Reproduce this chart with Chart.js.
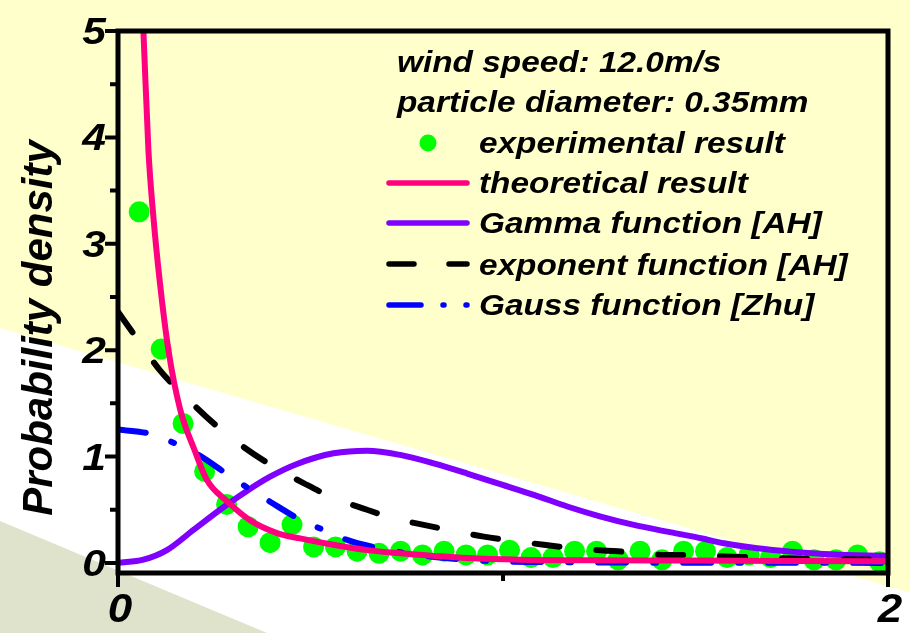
<!DOCTYPE html>
<html>
<head>
<meta charset="utf-8">
<script src="https://cdn.jsdelivr.net/npm/chart.js@4/dist/chart.umd.min.js"></script>
<style>
html,body{margin:0;padding:0;background:#FFFFCC;}
#c{display:block;width:910px;height:633px;}
</style>
</head>
<body>
<canvas id="c" width="910" height="633"></canvas>
<script>
// ---- data ----
const headerLines = ["wind speed: 12.0m/s", "particle diameter: 0.35mm"];
const seriesNames = ["experimental result", "theoretical result", "Gamma function [AH]", "exponent function [AH]", "Gauss function [Zhu]"];
const yAxisTitle = "Probability density";

const expX = [0.055,0.112,0.169,0.225,0.282,0.338,0.395,0.452,0.508,0.565,0.621,0.678,0.734,0.791,0.847,0.904,0.960,1.017,1.073,1.130,1.186,1.243,1.299,1.356,1.413,1.469,1.526,1.582,1.639,1.695,1.752,1.808,1.865,1.921,1.978];
const expY = [3.30,2.01,1.31,0.86,0.55,0.34,0.19,0.36,0.15,0.15,0.11,0.09,0.11,0.075,0.11,0.075,0.075,0.12,0.05,0.05,0.11,0.11,0.03,0.11,0.03,0.11,0.11,0.05,0.075,0.05,0.11,0.03,0.03,0.075,0.01];

const theoX = [0.062,0.066,0.079,0.092,0.109,0.131,0.161,0.200,0.231,0.283,0.343,0.413,0.473,0.559,0.647,0.733,0.819,0.907,1.046,1.25,1.51,1.75,2.0];
const theoY = [5.3,5.0,3.88,3.25,2.63,2.0,1.45,1.05,0.78,0.58,0.40,0.28,0.23,0.17,0.12,0.09,0.066,0.045,0.03,0.025,0.022,0.018,0.015];

const gamX = [0,0.066,0.127,0.196,0.265,0.326,0.395,0.465,0.56,0.647,0.733,0.82,0.907,0.993,1.08,1.167,1.254,1.34,1.427,1.514,1.574,1.661,1.748,1.834,1.921,2.0];
const gamY = [0,0.03,0.12,0.31,0.50,0.655,0.81,0.93,1.03,1.055,1.015,0.935,0.84,0.74,0.64,0.53,0.435,0.357,0.294,0.232,0.185,0.138,0.106,0.084,0.072,0.066];

const expoX = [0,0.049,0.109,0.17,0.252,0.326,0.404,0.482,0.56,0.638,0.716,0.794,0.872,0.95,1.033,1.106,1.184,1.262,1.34,1.418,1.496,1.574,1.652,1.73,1.808,1.886,2.0];
const expoY = [2.36,2.11,1.81,1.58,1.30,1.09,0.905,0.75,0.61,0.51,0.42,0.357,0.30,0.247,0.205,0.17,0.138,0.116,0.10,0.075,0.075,0.06,0.053,0.044,0.038,0.035,0.03];

const gauX = [0,0.088,0.144,0.209,0.283,0.335,0.395,0.478,0.534,0.595,0.677,0.76,0.85,0.95,1.1,1.3,1.6,2.0];
const gauY = [1.255,1.21,1.13,1.015,0.835,0.71,0.575,0.397,0.31,0.216,0.138,0.085,0.045,0.02,0.008,0.003,0.001,0];

const xMajorTicks = [0, 2];
const xMinorTicks = [1];
const yMajorTicks = [0, 1, 2, 3, 4, 5];
const yMinorTicks = [0.5, 1.5, 2.5, 3.5, 4.5];

// ---- helpers ----
const pts = (xs, ys) => xs.map((x, i) => ({x: x, y: ys[i]}));
const C = {green:'#00FF00', pink:'#FF0080', purple:'#8000FF', black:'#000000', blue:'#0000FF'};
const FONT = '"Liberation Sans", Arial, sans-serif';

function stretchText(ctx, txt, x, y, sx, align) {
  ctx.save();
  ctx.translate(x, y);
  ctx.scale(sx, 1);
  ctx.textAlign = align || 'left';
  ctx.fillText(txt, 0, 0);
  ctx.restore();
}

const bgPlugin = {
  id: 'bg',
  beforeDraw(chart) {
    const ctx = chart.ctx, W = chart.width, H = chart.height;
    ctx.save();
    ctx.fillStyle = '#FFFFCC';
    ctx.fillRect(0, 0, W, H);
    ctx.fillStyle = '#FFFFFF';
    ctx.beginPath();
    ctx.moveTo(0, 328); ctx.lineTo(W, 328 + 0.291 * W); ctx.lineTo(W, H); ctx.lineTo(0, H); ctx.closePath();
    ctx.fill();
    ctx.fillStyle = '#E0E3CB';
    ctx.beginPath();
    ctx.moveTo(0, 521); ctx.lineTo(267, H); ctx.lineTo(0, H); ctx.closePath();
    ctx.fill();
    ctx.restore();
  }
};

const axesPlugin = {
  id: 'axesFrame',
  afterDatasetsDraw(chart) {
    const ctx = chart.ctx;
    const xs = chart.scales.x, ys = chart.scales.y;
    const L = xs.getPixelForValue(xs.min), R = xs.getPixelForValue(xs.max);
    const T = ys.getPixelForValue(ys.max), B = ys.getPixelForValue(ys.min);
    ctx.save();
    ctx.strokeStyle = '#000';
    ctx.lineCap = 'butt';
    // frame
    ctx.lineWidth = 5;
    ctx.beginPath();
    ctx.moveTo(L, B); ctx.lineTo(R, B);
    ctx.moveTo(L, B + 2.5); ctx.lineTo(L, T - 2.5);
    ctx.moveTo(L - 2.5, T); ctx.lineTo(R + 2.5, T);
    ctx.moveTo(R, T); ctx.lineTo(R, B + 2.5);
    ctx.stroke();
    // y ticks
    ctx.lineWidth = 4;
    ctx.beginPath();
    yMajorTicks.forEach(v => { const p = ys.getPixelForValue(v); ctx.moveTo(L, p); ctx.lineTo(L - 13, p); });
    yMinorTicks.forEach(v => { const p = ys.getPixelForValue(v); ctx.moveTo(L, p); ctx.lineTo(L - 8, p); });
    // x ticks
    xMajorTicks.forEach(v => { const p = xs.getPixelForValue(v); ctx.moveTo(p, B); ctx.lineTo(p, B + 14); });
    xMinorTicks.forEach(v => { const p = xs.getPixelForValue(v); ctx.moveTo(p, B); ctx.lineTo(p, B + 8); });
    ctx.stroke();
    // tick labels
    ctx.fillStyle = '#000';
    ctx.textBaseline = 'alphabetic';
    ctx.font = 'italic bold 37px ' + FONT;
    yMajorTicks.forEach(v => { const p = ys.getPixelForValue(v); stretchText(ctx, String(v), L - 12, p + 13, 1.15, 'right'); });
    ctx.font = 'italic bold 40px ' + FONT;
    xMajorTicks.forEach(v => { const p = xs.getPixelForValue(v); stretchText(ctx, String(v), p + 2, B + 49, 1.1, 'center'); });
    // y axis title
    ctx.save();
    ctx.translate(52, 328);
    ctx.rotate(-Math.PI / 2);
    ctx.font = 'italic bold 42px ' + FONT;
    ctx.textAlign = 'center';
    ctx.fillText(yAxisTitle, 0, 0);
    ctx.restore();
    ctx.restore();
  }
};

const legendPlugin = {
  id: 'customLegend',
  afterDraw(chart) {
    const ctx = chart.ctx;
    ctx.save();
    ctx.fillStyle = '#000';
    ctx.font = 'italic bold 29px ' + FONT;
    ctx.textBaseline = 'alphabetic';
    stretchText(ctx, headerLines[0], 397, 72, 1.15);
    stretchText(ctx, headerLines[1], 397, 112, 1.15);
    const base = [153, 193, 233, 275, 315];
    seriesNames.forEach((n, i) => stretchText(ctx, n, 479, base[i], 1.15));
    // samples
    ctx.fillStyle = C.green;
    ctx.beginPath(); ctx.arc(428, 143, 8.5, 0, Math.PI * 2); ctx.fill();
    ctx.lineWidth = 5.5; ctx.lineCap = 'round';
    const seg = (color, y, dash) => {
      ctx.strokeStyle = color; ctx.setLineDash(dash);
      ctx.beginPath(); ctx.moveTo(389, y); ctx.lineTo(467, y); ctx.stroke();
    };
    seg(C.pink, 183, []);
    seg(C.purple, 223, []);
    seg(C.black, 264, [25, 35]);
    seg(C.blue, 305, [32, 22, 1, 22, 1, 40]);
    ctx.restore();
  }
};

const lineDs = (label, xs, ys, color, dash, order) => ({
  type: 'line', label: label, data: pts(xs, ys), borderColor: color, backgroundColor: color,
  borderWidth: 6, borderDash: dash, borderCapStyle: dash.length ? 'round' : 'butt',
  pointRadius: 0, fill: false, cubicInterpolationMode: 'monotone', order: order
});

new Chart(document.getElementById('c'), {
  type: 'scatter',
  data: {
    datasets: [
      lineDs(seriesNames[1], theoX, theoY, C.pink, [], 0),
      lineDs(seriesNames[3], expoX, expoY, C.black, [25, 37], 1),
      lineDs(seriesNames[4], gauX, gauY, C.blue, [28, 27, 3, 27], 2),
      lineDs(seriesNames[2], gamX, gamY, C.purple, [], 3),
      { type: 'scatter', label: seriesNames[0], data: pts(expX, expY), backgroundColor: C.green,
        borderWidth: 0, pointRadius: 10.5, pointHoverRadius: 10.5, order: 4 }
    ]
  },
  options: {
    responsive: false, animation: false, devicePixelRatio: 1,
    layout: { padding: { left: 118, right: 22, top: 31, bottom: 60 } },
    plugins: { legend: { display: false }, tooltip: { enabled: false } },
    scales: {
      x: { type: 'linear', min: 0, max: 2, display: false },
      y: { type: 'linear', min: -0.095, max: 5, display: false }
    }
  },
  plugins: [bgPlugin, axesPlugin, legendPlugin]
});
</script>
</body>
</html>
